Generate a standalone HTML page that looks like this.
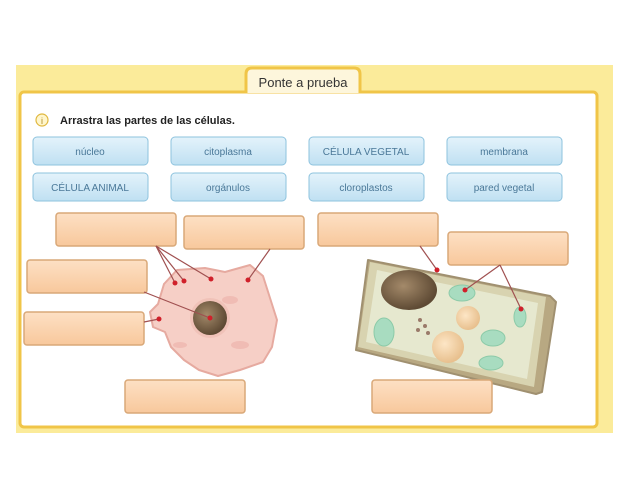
<!DOCTYPE html>
<html><head><meta charset="utf-8"><style>
body{margin:0;width:640px;height:480px;background:#fff;overflow:hidden;font-family:"Liberation Sans",sans-serif}
</style></head><body>
<svg width="640" height="480" viewBox="0 0 640 480" xmlns="http://www.w3.org/2000/svg" font-family="Liberation Sans, sans-serif">
<defs>
<linearGradient id="btn" x1="0" y1="0" x2="0" y2="1"><stop offset="0" stop-color="#e4f3fb"/><stop offset="1" stop-color="#bfe0f2"/></linearGradient>
<linearGradient id="box" x1="0" y1="0" x2="0" y2="1"><stop offset="0" stop-color="#fde0c4"/><stop offset="1" stop-color="#f8c89c"/></linearGradient>
<radialGradient id="nuc" cx="0.4" cy="0.4" r="0.6"><stop offset="0" stop-color="#a48a6a"/><stop offset="1" stop-color="#5e4a34"/></radialGradient>
<radialGradient id="vac" cx="0.4" cy="0.4" r="0.6"><stop offset="0" stop-color="#fde6c6"/><stop offset="1" stop-color="#e8c08e"/></radialGradient>
</defs>
<rect x="16" y="65" width="597" height="368" fill="#fbeb9a"/>
<rect x="20" y="92" width="577" height="335" rx="4" fill="#fff" stroke="#f0c548" stroke-width="3"/>
<path d="M246 93 V74 q0-6 6-6 h102 q6 0 6 6 V93" fill="#fdf6dc" stroke="#f0c548" stroke-width="3"/>
<text x="303" y="87" font-size="13" text-anchor="middle" fill="#333">Ponte a prueba</text>
<circle cx="42" cy="120" r="6" fill="#fff6cc" stroke="#e0b840" stroke-width="1.2"/>
<text x="42" y="124" font-size="9" text-anchor="middle" fill="#b08820">i</text>
<text x="60" y="124" font-size="11" font-weight="bold" fill="#222">Arrastra las partes de las células.</text>
<g font-size="10" text-anchor="middle" fill="#4a7898">
<rect x="33" y="137" width="115" height="28" rx="4" fill="url(#btn)" stroke="#8ec3de"/><text x="90" y="155">núcleo</text>
<rect x="171" y="137" width="115" height="28" rx="4" fill="url(#btn)" stroke="#8ec3de"/><text x="228" y="155">citoplasma</text>
<rect x="309" y="137" width="115" height="28" rx="4" fill="url(#btn)" stroke="#8ec3de"/><text x="366" y="155">CÉLULA VEGETAL</text>
<rect x="447" y="137" width="115" height="28" rx="4" fill="url(#btn)" stroke="#8ec3de"/><text x="504" y="155">membrana</text>
<rect x="33" y="173" width="115" height="28" rx="4" fill="url(#btn)" stroke="#8ec3de"/><text x="90" y="191">CÉLULA ANIMAL</text>
<rect x="171" y="173" width="115" height="28" rx="4" fill="url(#btn)" stroke="#8ec3de"/><text x="228" y="191">orgánulos</text>
<rect x="309" y="173" width="115" height="28" rx="4" fill="url(#btn)" stroke="#8ec3de"/><text x="366" y="191">cloroplastos</text>
<rect x="447" y="173" width="115" height="28" rx="4" fill="url(#btn)" stroke="#8ec3de"/><text x="504" y="191">pared vegetal</text>
</g>
<!-- animal cell -->
<polygon points="164,284 177,270 205,268 225,272 250,265 263,276 270,298 277,320 272,347 263,362 240,370 218,376 199,370 184,360 171,347 165,332 153,327 150,312 158,304 161,294" fill="#f6cfc6" stroke="#e6aaa0" stroke-width="2" stroke-linejoin="round"/>
<ellipse cx="230" cy="300" rx="8" ry="4" fill="#f0bcb4"/><ellipse cx="240" cy="345" rx="9" ry="4" fill="#f0bcb4"/><ellipse cx="180" cy="345" rx="7" ry="3" fill="#f0bcb4"/>
<circle cx="210" cy="318" r="20" fill="#f0c2b8"/>
<circle cx="210" cy="318" r="17" fill="url(#nuc)"/>
<!-- plant cell -->
<polygon points="368,260 550,296 556,302 542,392 536,394 356,350" fill="#b8a882" stroke="#a09070" stroke-width="2" stroke-linejoin="round"/>
<polygon points="370,262 546,297 534,387 358,347" fill="#d8d3b0"/>
<polygon points="377,270 538,303 527,379 366,342" fill="#e6e8cf"/>
<ellipse cx="409" cy="290" rx="28" ry="20" fill="url(#nuc)"/>
<circle cx="468" cy="318" r="12" fill="url(#vac)"/><circle cx="448" cy="347" r="16" fill="url(#vac)"/>
<g fill="#a8dcc0" stroke="#8ccaa8"><ellipse cx="462" cy="293" rx="13" ry="8"/><ellipse cx="384" cy="332" rx="10" ry="14"/><ellipse cx="493" cy="338" rx="12" ry="8"/><ellipse cx="491" cy="363" rx="12" ry="7"/><ellipse cx="520" cy="317" rx="6" ry="10"/></g>
<g fill="#9a7a6a"><circle cx="420" cy="320" r="2"/><circle cx="425" cy="326" r="2"/><circle cx="418" cy="330" r="2"/><circle cx="428" cy="333" r="2"/></g>
<!-- boxes -->
<g fill="url(#box)" stroke="#d9a878" stroke-width="1.5">
<rect x="56" y="213" width="120" height="33" rx="3"/>
<rect x="184" y="216" width="120" height="33" rx="3"/>
<rect x="318" y="213" width="120" height="33" rx="3"/>
<rect x="448" y="232" width="120" height="33" rx="3"/>
<rect x="27" y="260" width="120" height="33" rx="3"/>
<rect x="24" y="312" width="120" height="33" rx="3"/>
<rect x="125" y="380" width="120" height="33" rx="3"/>
<rect x="372" y="380" width="120" height="33" rx="3"/>
</g>
<g stroke="#a05050" stroke-width="1.2">
<line x1="156" y1="246" x2="175" y2="283"/><line x1="156" y1="246" x2="184" y2="281"/><line x1="156" y1="246" x2="211" y2="279"/>
<line x1="270" y1="249" x2="248" y2="280"/>
<line x1="144" y1="292" x2="210" y2="318"/>
<line x1="144" y1="322" x2="159" y2="319"/>
<line x1="420" y1="246" x2="437" y2="270"/>
<line x1="500" y1="265" x2="465" y2="290"/><line x1="500" y1="265" x2="521" y2="309"/>
</g>
<g fill="#d0202a">
<circle cx="175" cy="283" r="2.5"/><circle cx="184" cy="281" r="2.5"/><circle cx="211" cy="279" r="2.5"/><circle cx="248" cy="280" r="2.5"/><circle cx="210" cy="318" r="2.5"/><circle cx="159" cy="319" r="2.5"/>
<circle cx="437" cy="270" r="2.5"/><circle cx="465" cy="290" r="2.5"/><circle cx="521" cy="309" r="2.5"/>
</g>
</svg>
</body></html>
